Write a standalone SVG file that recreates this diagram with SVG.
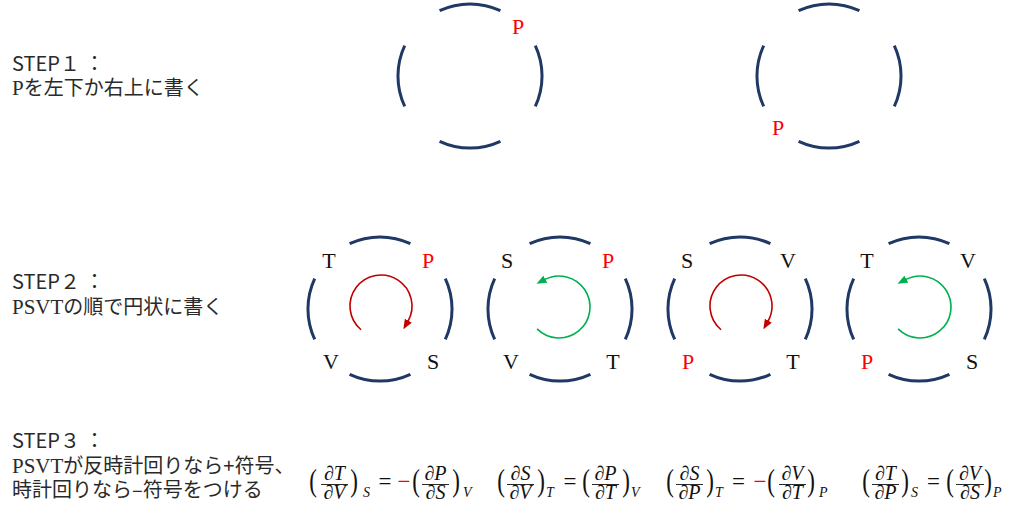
<svg xmlns="http://www.w3.org/2000/svg" width="1024" height="516" viewBox="0 0 1024 516">
<style>
.ring{fill:none;stroke:#1f3864;stroke-width:3;stroke-linecap:butt}
.arr-r{fill:none;stroke:#c00000;stroke-width:1.6}
.arr-g{fill:none;stroke:#00b050;stroke-width:1.6}
.bar{stroke:#111;stroke-width:0.9}
</style>
<defs>
<path id="ringpath" class="ring" d="M-30.4,-65.3 A72,72 0 0 1 30.4,-65.3 M65.3,-30.4 A72,72 0 0 1 65.3,30.4 M30.4,65.3 A72,72 0 0 1 -30.4,65.3 M-65.3,30.4 A72,72 0 0 1 -65.3,-30.4"/>
<marker id="ah-r" viewBox="0 0 10 8" refX="1" refY="4" markerWidth="10" markerHeight="8" markerUnits="userSpaceOnUse" orient="auto"><path d="M0,0 L10,4 L0,8 z" fill="#c00000"/></marker>
<marker id="ah-g" viewBox="0 0 10 8" refX="1" refY="4" markerWidth="10" markerHeight="8" markerUnits="userSpaceOnUse" orient="auto"><path d="M0,0 L10,4 L0,8 z" fill="#00b050"/></marker>
</defs>

<g id="step-labels" font-family="'Noto Sans CJK JP', 'Noto Sans', sans-serif" font-size="20" fill="#2a2a2a">
<text x="12" y="71">STEP１ ：</text>
<text x="12" y="95"><tspan font-family="'Liberation Serif', serif" font-size="21">P</tspan>を左下か右上に書く</text>
<text x="12" y="289">STEP２ ：</text>
<text x="12" y="314"><tspan font-family="'Liberation Serif', serif" font-size="21">PSVT</tspan>の順で円状に書く</text>
<text x="12" y="448">STEP３ ：</text>
<text x="12" y="473"><tspan font-family="'Liberation Serif', serif" font-size="21">PSVT</tspan>が反時計回りなら+符号、</text>
<text x="12" y="497">時計回りなら–符号をつける</text>
</g>

<g font-family="'Liberation Serif', 'DejaVu Serif', serif" font-size="22" text-anchor="middle" fill="#111">
<g id="step1-circle-a">
<use href="#ringpath" transform="translate(470,76)"/>
<text fill="#ff0000" x="518" y="34">P</text>
</g>
<g id="step1-circle-b">
<use href="#ringpath" transform="translate(829,76)"/>
<text fill="#ff0000" x="778" y="135">P</text>
</g>

<g id="step2-circle-1">
<use href="#ringpath" transform="translate(380,309)"/>
<text x="329" y="268">T</text>
<text fill="#ff0000" x="428" y="268">P</text>
<text x="331" y="369">V</text>
<text x="433" y="369">S</text>
</g>
<g id="step2-circle-2">
<use href="#ringpath" transform="translate(560,309)"/>
<text x="507" y="268">S</text>
<text fill="#ff0000" x="608" y="268">P</text>
<text x="511" y="369">V</text>
<text x="613" y="369">T</text>
</g>
<g id="step2-circle-3">
<use href="#ringpath" transform="translate(740,309)"/>
<text x="687" y="268">S</text>
<text x="788" y="268">V</text>
<text fill="#ff0000" x="688" y="369">P</text>
<text x="793" y="369">T</text>
</g>
<g id="step2-circle-4">
<use href="#ringpath" transform="translate(919,309)"/>
<text x="867" y="268">T</text>
<text x="968" y="268">V</text>
<text fill="#ff0000" x="867" y="369">P</text>
<text x="972" y="369">S</text>
</g>
</g>

<g id="connectors">
<path class="arr-r" marker-end="url(#ah-r)" transform="translate(380,309)" d="M-18.93,20.75 A31,31 0 1 1 27.85,12.5"/>
<path class="arr-g" marker-end="url(#ah-g)" transform="translate(560,309)" d="M-22.92,19.92 A31,31 0 1 0 -15.55,-29.37"/>
<path class="arr-r" marker-end="url(#ah-r)" transform="translate(740,309)" d="M-18.93,20.75 A31,31 0 1 1 27.85,12.5"/>
<path class="arr-g" marker-end="url(#ah-g)" transform="translate(921,309)" d="M-22.92,19.92 A31,31 0 1 0 -15.55,-29.37"/>
</g>

<g id="equations" font-family="'Liberation Serif', 'DejaVu Serif', serif" fill="#111" text-anchor="middle">
<g id="paren" font-size="23">
<text transform="translate(313,490.5) scale(1,1.35)">(</text><text transform="translate(354,490.5) scale(1,1.35)">)</text>
<text transform="translate(416,490.5) scale(1,1.35)">(</text><text transform="translate(456,490.5) scale(1,1.35)">)</text>
<text transform="translate(501,490.5) scale(1,1.35)">(</text><text transform="translate(541,490.5) scale(1,1.35)">)</text>
<text transform="translate(586,490.5) scale(1,1.35)">(</text><text transform="translate(626,490.5) scale(1,1.35)">)</text>
<text transform="translate(670,490.5) scale(1,1.35)">(</text><text transform="translate(710,490.5) scale(1,1.35)">)</text>
<text transform="translate(771,490.5) scale(1,1.35)">(</text><text transform="translate(811,490.5) scale(1,1.35)">)</text>
<text transform="translate(866,490.5) scale(1,1.35)">(</text><text transform="translate(905,490.5) scale(1,1.35)">)</text>
<text transform="translate(950,490.5) scale(1,1.35)">(</text><text transform="translate(988,490.5) scale(1,1.35)">)</text>
</g>
<g id="fracs" font-size="20" font-style="italic">
<text x="334.5" y="480">∂T</text><text x="334.5" y="499">∂V</text>
<text x="435.5" y="480">∂P</text><text x="435.5" y="499">∂S</text>
<text x="520.5" y="480">∂S</text><text x="520.5" y="499">∂V</text>
<text x="605.5" y="480">∂P</text><text x="605.5" y="499">∂T</text>
<text x="689.5" y="480">∂S</text><text x="689.5" y="499">∂P</text>
<text x="792.5" y="480">∂V</text><text x="792.5" y="499">∂T</text>
<text x="885.5" y="480">∂T</text><text x="885.5" y="499">∂P</text>
<text x="970" y="480">∂V</text><text x="970" y="499">∂S</text>
</g>
<g id="bars">
<line class="bar" x1="321" y1="484.5" x2="348" y2="484.5"/>
<line class="bar" x1="422" y1="484.5" x2="449" y2="484.5"/>
<line class="bar" x1="507" y1="484.5" x2="534" y2="484.5"/>
<line class="bar" x1="592" y1="484.5" x2="619" y2="484.5"/>
<line class="bar" x1="676" y1="484.5" x2="703" y2="484.5"/>
<line class="bar" x1="779" y1="484.5" x2="806" y2="484.5"/>
<line class="bar" x1="872" y1="484.5" x2="899" y2="484.5"/>
<line class="bar" x1="956" y1="484.5" x2="984" y2="484.5"/>
</g>
<g id="subs" font-size="14" font-style="italic" text-anchor="start">
<text x="363" y="497">S</text><text x="463" y="497">V</text>
<text x="546" y="497">T</text><text x="631" y="497">V</text>
<text x="715" y="497">T</text><text x="819" y="497">P</text>
<text x="911" y="497">S</text><text x="993" y="497">P</text>
</g>
<g id="ops" font-size="23">
<text x="385" y="489">=</text>
<text x="404" y="489" fill="#ff0000">−</text>
<text x="570" y="489">=</text>
<text x="738.5" y="489">=</text>
<text x="760" y="489" fill="#ff0000">−</text>
<text x="933.5" y="489">=</text>
</g>
</g>
</svg>
